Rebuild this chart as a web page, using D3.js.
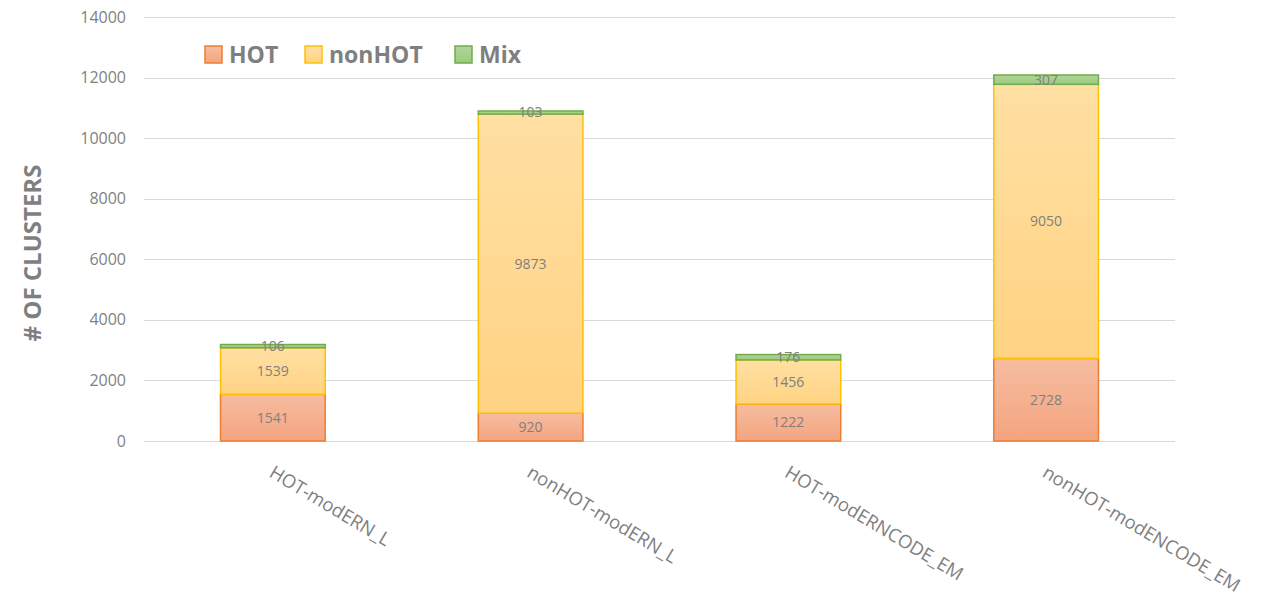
<!DOCTYPE html>
<html>
<head>
<meta charset="utf-8">
<script src="https://cdn.jsdelivr.net/npm/d3@7"></script>
<style>
  body { margin: 0; background: #fff; }
  text { font-family: "Open Sans", "DejaVu Sans", sans-serif; }
</style>
</head>
<body>
<svg id="chart" width="1266" height="601"></svg>
<script>
// data
var categories = ["HOT-modERN_L", "nonHOT-modERN_L", "HOT-modERNCODE_EM", "nonHOT-modENCODE_EM"];
var hotValues = [1541, 920, 1222, 2728];
var nonHotValues = [1539, 9873, 1456, 9050];
var mixValues = [106, 103, 176, 307];
var seriesNames = ["HOT", "nonHOT", "Mix"];
var yTicks = [0, 2000, 4000, 6000, 8000, 10000, 12000, 14000];

var svg = d3.select("#chart");

var x = d3.scaleBand()
    .domain(categories)
    .range([144, 1175])
    .paddingInner(0.59)
    .paddingOuter(0.295);

var y = d3.scaleLinear()
    .domain([0, 14000])
    .range([441, 17]);

// colours per series: stroke + gradient top/bottom
var styles = {
    "HOT":    { stroke: "#ed7d31", top: "#f6bda0", bottom: "#f4a47f" },
    "nonHOT": { stroke: "#ffc000", top: "#ffe0a3", bottom: "#ffd383" },
    "Mix":    { stroke: "#70ad47", top: "#b1d59a", bottom: "#9cc981" }
};

var defs = svg.append("defs");
seriesNames.forEach(function (s, i) {
    var g = defs.append("linearGradient")
        .attr("id", "grad" + i)
        .attr("x1", 0).attr("y1", 0).attr("x2", 0).attr("y2", 1);
    g.append("stop").attr("offset", "0%").attr("stop-color", styles[s].top);
    g.append("stop").attr("offset", "100%").attr("stop-color", styles[s].bottom);
});

// gridlines
svg.append("g")
    .selectAll("line")
    .data(yTicks)
    .enter()
    .append("line")
        .attr("x1", 144)
        .attr("x2", 1175)
        .attr("y1", function (d) { return Math.round(y(d)) + 0.5; })
        .attr("y2", function (d) { return Math.round(y(d)) + 0.5; })
        .attr("stroke", "#d9d9d9")
        .attr("stroke-width", 1);

// y tick labels
svg.append("g")
    .selectAll("text")
    .data(yTicks)
    .enter()
    .append("text")
        .attr("x", 126)
        .attr("y", function (d) { return y(d); })
        .attr("dy", "0.35em")
        .attr("text-anchor", "end")
        .attr("fill", "#7f7f7f")
        .attr("font-size", "16px")
        .text(function (d) { return d; });

// y title
svg.append("text")
    .attr("transform", "translate(41,253) rotate(-90)")
    .attr("text-anchor", "middle")
    .attr("fill", "#7f7f7f")
    .attr("font-size", "24px")
    .attr("font-weight", "bold")
    .text("# OF CLUSTERS");

// stacked bars
var rows = categories.map(function (c, i) {
    return { cat: c, HOT: hotValues[i], nonHOT: nonHotValues[i], Mix: mixValues[i] };
});
var stacked = d3.stack().keys(seriesNames)(rows);

var layers = svg.append("g")
    .selectAll("g")
    .data(stacked)
    .enter()
    .append("g");

layers.selectAll("rect")
    .data(function (d) { return d.map(function (p) { return { key: d.key, idx: d.index, p: p }; }); })
    .enter()
    .append("rect")
        .attr("x", function (d) { return x(d.p.data.cat) + 0.5; })
        .attr("width", x.bandwidth() - 1)
        .attr("y", function (d) { return y(d.p[1]); })
        .attr("height", function (d) { return y(d.p[0]) - y(d.p[1]); })
        .attr("fill", function (d) { return "url(#grad" + d.idx + ")"; })
        .attr("stroke", function (d) { return styles[d.key].stroke; })
        .attr("stroke-width", 1.5);

layers.selectAll("text")
    .data(function (d) { return d.map(function (p) { return { key: d.key, p: p }; }); })
    .enter()
    .append("text")
        .attr("x", function (d) { return x(d.p.data.cat) + x.bandwidth() / 2; })
        .attr("y", function (d) { return (y(d.p[0]) + y(d.p[1])) / 2; })
        .attr("dy", "0.35em")
        .attr("text-anchor", "middle")
        .attr("fill", "#808080")
        .attr("font-size", "14px")
        .text(function (d) { return d.p.data[d.key]; });

// category labels, rotated
svg.append("g")
    .selectAll("text")
    .data(categories)
    .enter()
    .append("text")
        .attr("transform", function (d) {
            return "translate(" + (x(d) + x.bandwidth() / 2 - 5) + ",476) rotate(31)";
        })
        .attr("text-anchor", "start")
        .attr("fill", "#7f7f7f")
        .attr("font-size", "18.5px")
        .text(function (d) { return d; });

// legend
var legendX = [205, 305, 455];
var legend = svg.append("g")
    .selectAll("g")
    .data(seriesNames)
    .enter()
    .append("g")
        .attr("transform", function (d, i) { return "translate(" + legendX[i] + ",46)"; });

legend.append("rect")
    .attr("width", 17)
    .attr("height", 17)
    .attr("fill", function (d, i) { return "url(#grad" + i + ")"; })
    .attr("stroke", function (d) { return styles[d].stroke; })
    .attr("stroke-width", 1.5);

legend.append("text")
    .attr("x", 24)
    .attr("y", 9)
    .attr("dy", "0.35em")
    .attr("fill", "#7f7f7f")
    .attr("font-size", "23px")
    .attr("font-weight", "bold")
    .text(function (d) { return d; });
</script>
</body>
</html>
